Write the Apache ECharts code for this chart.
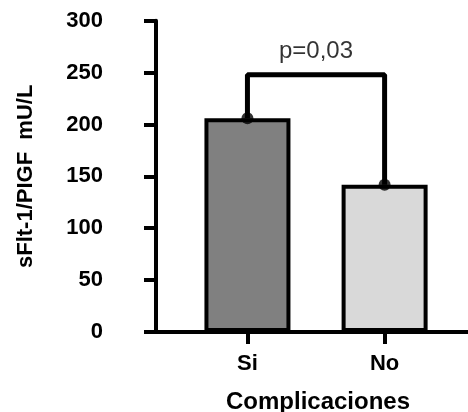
<!DOCTYPE html>
<html>
<head>
<meta charset="utf-8">
<script src="https://cdn.jsdelivr.net/npm/echarts@6/dist/echarts.min.js"></script>
<style>
html,body{margin:0;padding:0;background:#fff;}
#c{width:468px;height:412px;}
</style>
</head>
<body>
<div id="c"></div>
<script>
// Data
var categories = ['Si', 'No'];
var values = [206, 142];
var barColors = ['#808080', '#d9d9d9'];
var bracketTop = 248;
var pLabel = 'p=0,03';
var yMin = 0, yMax = 300, yStep = 50;
var xTitle = 'Complicaciones';
var yTitle = 'sFlt-1/PIGF  mU/L';

var positions = categories.map(function (c, i) { return i + 1; });
var font = 'Liberation Sans, Arial, sans-serif';

var chart = echarts.init(document.getElementById('c'), null, { renderer: 'canvas' });
chart.setOption({
  animation: false,
  backgroundColor: '#ffffff',
  grid: { left: 156, right: 0, top: 20.7, bottom: 80, outerBoundsMode: 'none', containLabel: false },
  xAxis: {
    type: 'value',
    min: 1 / 3,
    max: 2.608,
    name: xTitle,
    nameLocation: 'middle',
    nameGap: 58,
    nameTextStyle: { fontFamily: font, fontWeight: 'bold', fontSize: 24, color: '#000', padding: [0, 0, 0, 12] },
    splitLine: { show: false },
    axisLine: { show: true, onZero: false, lineStyle: { color: '#000', width: 4 } },
    axisTick: { show: true, customValues: positions, length: 12, lineStyle: { color: '#000', width: 4 } },
    axisLabel: {
      customValues: positions,
      margin: 21,
      fontFamily: font, fontWeight: 'bold', fontSize: 22, color: '#000',
      formatter: function (v) { return categories[Math.round(v) - 1] || ''; }
    }
  },
  yAxis: {
    type: 'value',
    min: yMin, max: yMax, interval: yStep,
    name: yTitle,
    nameLocation: 'middle',
    nameGap: 119,
    nameTextStyle: { fontFamily: font, fontWeight: 'bold', fontSize: 22, color: '#000' },
    splitLine: { show: false },
    axisLine: { show: true, lineStyle: { color: '#000', width: 4 } },
    axisTick: { show: true, length: 12, lineStyle: { color: '#000', width: 4 } },
    axisLabel: { margin: 53, fontFamily: font, fontWeight: 'bold', fontSize: 22, color: '#000' }
  },
  series: [
    {
      type: 'bar',
      barWidth: 86,
      data: values.map(function (v, i) {
        return { value: [positions[i], v], itemStyle: { color: barColors[i], borderColor: '#000', borderWidth: 4 } };
      })
    },
    {
      type: 'line',
      showSymbol: false,
      symbol: 'none',
      lineStyle: { color: '#000', width: 5 },
      data: [[positions[0], values[0]], [positions[0], bracketTop], [positions[1], bracketTop], [positions[1], values[1]]],
      z: 5
    },
    {
      type: 'scatter',
      symbolSize: 12,
      itemStyle: { color: '#000' },
      data: values.map(function (v, i) { return [positions[i], v]; }),
      z: 6
    },
    {
      type: 'scatter',
      symbolSize: 0,
      data: [[(positions[0] + positions[1]) / 2, bracketTop]],
      label: {
        show: true, position: 'top', distance: 11,
        formatter: pLabel,
        fontFamily: font, fontSize: 24, color: '#000'
      }
    }
  ]
});
</script>
</body>
</html>
